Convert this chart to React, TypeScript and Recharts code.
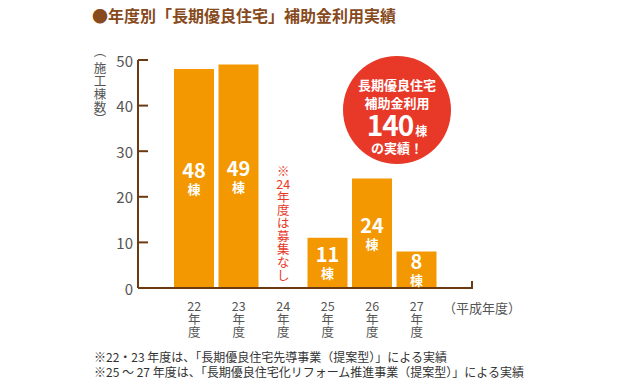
import React from "react";
import {
  BarChart,
  Bar,
  XAxis,
  YAxis,
  LabelList,
  ReferenceDot,
} from "recharts";

// 平成年度
const years = ["22", "23", "24", "25", "26", "27"];
// 施工棟数（24年度は募集なし）
const counts: (number | null)[] = [48, 49, null, 11, 24, 8];
const yTicks = [0, 10, 20, 30, 40, 50];
const totalCount = 140;
const noteChars = ["※", "24", "年", "度", "は", "募", "集", "な", "し"];
const yLabelChars = ["施", "工", "棟", "数"];

const data = years.map((year, i) => ({ year, count: counts[i] }));

const FONT = '"Noto Sans CJK JP", "Noto Sans", sans-serif';
const BROWN = "#6b3a12";
const ORANGE = "#f39800";
const RED = "#e83828";
const GRAY = "#555";

const YTick = (props: any) => {
  const { x, y, payload } = props;
  return (
    <g>
      <line x1={x} x2={x + 10} y1={y} y2={y} stroke={BROWN} strokeWidth={2} />
      <text
        x={x - 5}
        y={y}
        textAnchor="end"
        dominantBaseline="central"
        fontSize={15}
        fill={GRAY}
        fontFamily={FONT}
      >
        {payload.value}
      </text>
    </g>
  );
};

const XTick = (props: any) => {
  const { x, y, payload } = props;
  const lines = [payload.value, "年", "度"];
  return (
    <g>
      {lines.map((t, i) => (
        <text
          key={i}
          x={x}
          y={y + 17 + i * 13}
          textAnchor="middle"
          dominantBaseline="central"
          fontSize={12.5}
          fill={GRAY}
          fontFamily={FONT}
        >
          {t}
        </text>
      ))}
    </g>
  );
};

const BarLabel = (props: any) => {
  const { x, y, width, height, value } = props;
  if (value == null) return null;
  const cx = x + width / 2;
  const cy = y + height / 2;
  return (
    <g fontFamily={FONT} fill="#fff" fontWeight="bold">
      <text x={cx} y={cy - 9} textAnchor="middle" dominantBaseline="central" fontSize={20}>
        {value}
      </text>
      <text x={cx} y={cy + 10} textAnchor="middle" dominantBaseline="central" fontSize={13}>
        棟
      </text>
    </g>
  );
};

const NoteShape = (props: any) => {
  const { cx, cy } = props;
  return (
    <g fontFamily={FONT} fill={RED}>
      {noteChars.map((c, i) => (
        <text
          key={i}
          x={cx}
          y={cy - 118 + i * 13}
          textAnchor="middle"
          dominantBaseline="central"
          fontSize={12.5}
        >
          {c}
        </text>
      ))}
    </g>
  );
};

export default function App() {
  return (
    <div
      style={{
        position: "absolute",
        left: 0,
        top: 0,
        width: 630,
        height: 390,
        background: "#fff",
        fontFamily: FONT,
      }}
    >
      <div
        style={{
          position: "absolute",
          left: 92,
          top: 4,
          fontSize: 16,
          fontWeight: "bold",
          color: "#874a1c",
          whiteSpace: "nowrap",
          lineHeight: "22px",
        }}
      >
        ●年度別「長期優良住宅」補助金利用実績
      </div>
      <BarChart
        width={630}
        height={390}
        data={data}
        margin={{ top: 60, right: 158, bottom: 72, left: 98 }}
      >
        <XAxis
          dataKey="year"
          height={30}
          padding={{ left: 34, right: 33 }}
          axisLine={{ stroke: BROWN, strokeWidth: 2 }}
          tickLine={false}
          tickSize={0}
          tickMargin={0}
          tick={<XTick />}
          interval={0}
        />
        <YAxis
          width={40}
          domain={[0, 50]}
          ticks={yTicks}
          axisLine={{ stroke: BROWN, strokeWidth: 2 }}
          tickLine={false}
          tickSize={0}
          tickMargin={0}
          tick={<YTick />}
          interval={0}
        />
        <Bar dataKey="count" fill={ORANGE} barSize={40} isAnimationActive={false}>
          <LabelList dataKey="count" content={<BarLabel />} />
        </Bar>
        <ReferenceDot x="24" y={0} r={0} shape={<NoteShape />} />
      </BarChart>
      <svg
        style={{ position: "absolute", left: 0, top: 0, pointerEvents: "none" }}
        width={630}
        height={390}
      >
        <line x1={472} x2={472} y1={281} y2={289} stroke={BROWN} strokeWidth={2} />
        <g fontFamily={FONT} fill={GRAY} fontSize={12.5}>
          <text x={100} y={50} textAnchor="middle" dominantBaseline="central">
            ︵
          </text>
          {yLabelChars.map((c, i) => (
            <text
              key={i}
              x={100}
              y={67 + i * 13}
              textAnchor="middle"
              dominantBaseline="central"
            >
              {c}
            </text>
          ))}
          <text x={100} y={118} textAnchor="middle" dominantBaseline="central">
            ︶
          </text>
        </g>
      </svg>
      <div
        style={{
          position: "absolute",
          left: 343,
          top: 56,
          width: 108,
          height: 108,
          borderRadius: "50%",
          background: RED,
          color: "#fff",
          fontWeight: "bold",
          textAlign: "center",
        }}
      >
        <div style={{ position: "absolute", top: 20, width: "100%", fontSize: 13, lineHeight: "18px" }}>
          長期優良住宅
          <br />
          補助金利用
        </div>
        <div style={{ position: "absolute", top: 54, width: "100%", lineHeight: "28px", whiteSpace: "nowrap" }}>
          <span style={{ fontSize: 28, letterSpacing: -1 }}>{totalCount}</span>
          <span style={{ fontSize: 12, marginLeft: 2 }}>棟</span>
        </div>
        <div style={{ position: "absolute", top: 83, width: "100%", fontSize: 13, lineHeight: "17px" }}>
          の実績！
        </div>
      </div>
      <div
        style={{
          position: "absolute",
          left: 443,
          top: 299,
          fontSize: 13,
          color: GRAY,
          whiteSpace: "nowrap",
          lineHeight: "18px",
        }}
      >
        （平成年度）
      </div>
      <div
        style={{
          position: "absolute",
          left: 94,
          top: 349,
          fontSize: 12,
          color: "#333",
          whiteSpace: "nowrap",
          lineHeight: "15px",
        }}
      >
        ※22・23 年度は、「長期優良住宅先導事業（提案型）」による実績
        <br />
        ※25 ～ 27 年度は、「長期優良住宅化リフォーム推進事業（提案型）」による実績
      </div>
    </div>
  );
}
